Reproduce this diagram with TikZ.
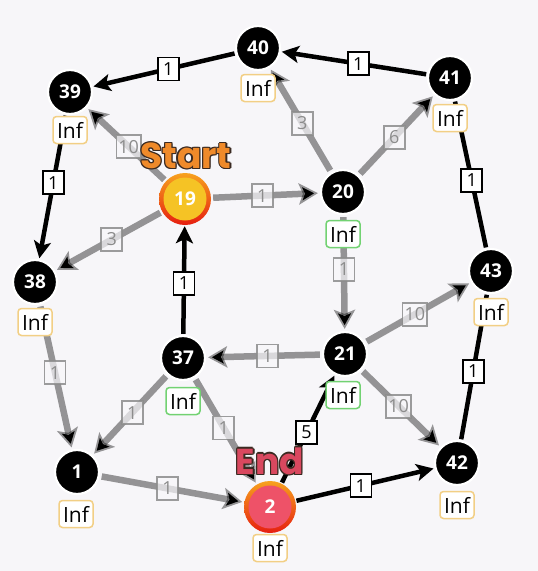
\documentclass[tikz,border=0pt]{standalone}
\usepackage{fontspec}
\setmainfont{Open Sans}
\newfontfamily\popfont{Poppins}
\usetikzlibrary{arrows.meta}
\definecolor{bgc}{HTML}{F7F6F9}
\definecolor{infor}{HTML}{F2CF85}
\definecolor{infgr}{HTML}{72D272}
\definecolor{edgegray}{HTML}{8C8C8C}
\definecolor{startc}{HTML}{EF8A2A}
\definecolor{endc}{HTML}{D9485F}
\definecolor{olc}{HTML}{3A2A22}
\definecolor{ringtop}{HTML}{F7A21E}
\definecolor{ringbot}{HTML}{E61E10}
\definecolor{yfill}{HTML}{F5C325}
\definecolor{pfill}{HTML}{EE5268}
\newcommand\olt[3]{\leavevmode
  \rlap{\kern1.3pt\textcolor{#2}{#3}}\rlap{\kern-1.3pt\textcolor{#2}{#3}}%
  \rlap{\raisebox{1.3pt}{\textcolor{#2}{#3}}}\rlap{\raisebox{-1.3pt}{\textcolor{#2}{#3}}}%
  \rlap{\kern0.95pt\raisebox{0.95pt}{\textcolor{#2}{#3}}}\rlap{\kern-0.95pt\raisebox{0.95pt}{\textcolor{#2}{#3}}}%
  \rlap{\kern0.95pt\raisebox{-0.95pt}{\textcolor{#2}{#3}}}\rlap{\kern-0.95pt\raisebox{-0.95pt}{\textcolor{#2}{#3}}}%
  \textcolor{#1}{#3}}
\tikzset{
  vtx/.style={circle, fill=black, draw=white, line width=2.2pt, minimum size=44pt, inner sep=0pt,
    text=white, font=\fontsize{19}{19}\selectfont\bfseries},
  special/.style={circle, minimum size=52pt, inner sep=0pt, top color=ringtop, bottom color=ringbot,
    text=white, font=\fontsize{19}{19}\selectfont\bfseries,
    path picture={\fill[#1] (path picture bounding box.center) circle (21.5pt);}},
  infbox/.style={rectangle, rounded corners=3.5pt, fill=white, draw=infor, line width=1.5pt,
    inner sep=2pt, minimum height=27pt, minimum width=34pt, font=\fontsize{21}{21}\selectfont},
  infgreen/.style={infbox, draw=infgr},
  blk/.style={line width=4.5pt, draw=black, -{Stealth[length=17pt,width=17pt,inset=4pt]}, shorten >=1pt, shorten <=1pt},
  blkline/.style={line width=4.5pt, draw=black, shorten >=1pt, shorten <=1pt},
  gry/.style={line width=6.5pt, draw=black, draw opacity=0.4, -{Stealth[length=19pt,width=21pt,inset=4pt]}, shorten >=2pt, shorten <=2pt},
  blbl/.style={rectangle, fill=white, draw=black, line width=1.6pt, inner sep=2pt, minimum width=21pt,
    minimum height=23pt, font=\fontsize{18}{18}\selectfont, text=black, pos=0.47},
  glbl/.style={rectangle, fill=bgc, fill opacity=0.7, text opacity=1, draw=edgegray, draw opacity=0.85, line width=1.8pt, inner sep=2pt,
    minimum width=21pt, minimum height=23pt, font=\fontsize{18}{18}\selectfont, text=edgegray, pos=0.47},
  titlelbl/.style={inner sep=0pt, font=\popfont\fontsize{36}{36}\selectfont\bfseries}
}
\begin{document}
\begin{tikzpicture}[x=1pt,y=-1pt]
\fill[bgc] (0,0) rectangle (538,571);
\useasboundingbox (0,0) rectangle (538,571);

% nodes
\node[vtx] (n40) at (258,48) {40};
\node[vtx] (n39) at (70,92) {39};
\node[vtx] (n41) at (450,78) {41};
\node[special=yfill] (n19) at (185,199) {19};
\node[vtx] (n20) at (343,192) {20};
\node[vtx] (n38) at (35,282) {38};
\node[vtx] (n43) at (491,271) {43};
\node[vtx] (n37) at (183,358) {37};
\node[vtx] (n21) at (345,354) {21};
\node[vtx] (n1) at (77,472) {1};
\node[special=pfill] (n2) at (270,507) {2};
\node[vtx] (n42) at (457,463) {42};

% gray edges
\draw[gry] (n19) -- node[glbl]{10} (n39);
\draw[gry] (n19) -- node[glbl]{1} (n20);
\draw[gry] (n19) -- node[glbl]{3} (n38);
\draw[gry] (n20) -- node[glbl]{3} (n40);
\draw[gry] (n20) -- node[glbl]{6} (n41);
\draw[gry] (n20) -- node[glbl]{1} (n21);
\draw[gry] (n21) -- node[glbl]{1} (n37);
\draw[gry] (n21) -- node[glbl]{10} (n43);
\draw[gry] (n21) -- node[glbl]{10} (n42);
\draw[gry] (n38) -- node[glbl]{1} (n1);
\draw[gry] (n37) -- node[glbl]{1} (n1);
\draw[gry] (n37) -- node[glbl]{1} (n2);
\draw[gry] (n1) -- node[glbl]{1} (n2);

% black edges
\draw[blk] (n40) -- node[blbl]{1} (n39);
\draw[blk] (n41) -- node[blbl]{1} (n40);
\draw[blk] (n39) -- node[blbl]{1} (n38);
\draw[blkline] (n41) -- node[blbl,pos=0.54]{1} (n43);
\draw[blkline] (n43) -- node[blbl,pos=0.53]{1} (n42);
\draw[blk] (n37) -- node[blbl]{1} (n19);
\draw[blk] (n2) -- node[blbl]{5} (n21);
\draw[blk] (n2) -- node[blbl]{1} (n42);

% distance boxes
\node[infbox] (i40) at (258,88) {Inf};
\node[infbox] (i39) at (70,130) {Inf};
\node[infbox] (i41) at (450,118) {Inf};
\node[infgreen] (i20) at (343,234) {Inf};
\node[infbox] (i38) at (35,322) {Inf};
\node[infbox] (i43) at (491,312) {Inf};
\node[infgreen] (i37) at (183,401) {Inf};
\node[infgreen] (i21) at (343,395) {Inf};
\node[infbox] (i1) at (76,514) {Inf};
\node[infbox] (i2) at (270,548) {Inf};
\node[infbox] (i42) at (457,505) {Inf};

% titles
\node[titlelbl] (tstart) at (186,156) {\olt{startc}{olc}{Start}};
\node[titlelbl] (tend) at (270,461) {\olt{endc}{olc}{End}};
\end{tikzpicture}
\end{document}
